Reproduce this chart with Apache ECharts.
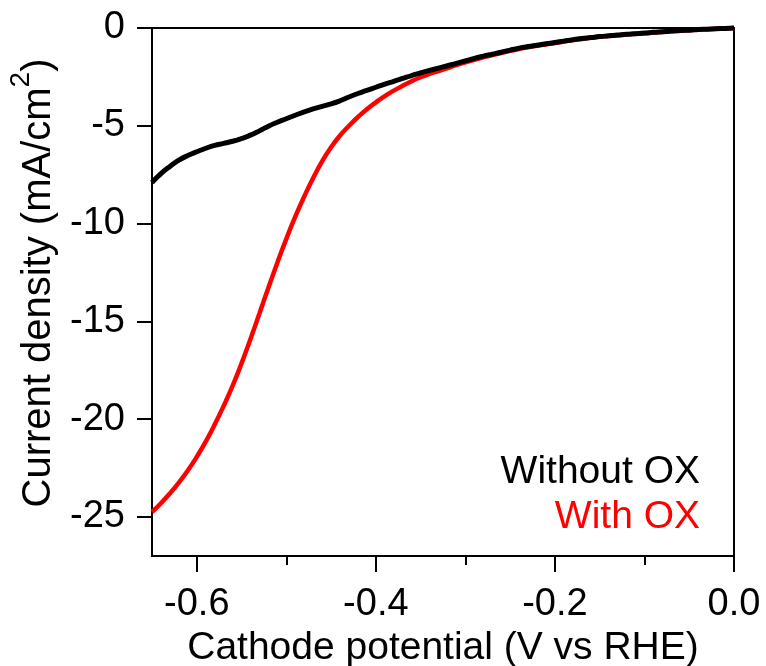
<!DOCTYPE html>
<html><head><meta charset="utf-8">
<script src="https://cdn.jsdelivr.net/npm/echarts@6/dist/echarts.min.js"></script>
<style>html,body{margin:0;padding:0;background:#fff}#c{width:766px;height:666px}</style>
</head><body><div id="c"></div>
<script>
// Cathode potential (V vs RHE)
const potential = [
 -0.65,-0.64,-0.63,-0.62,-0.61,-0.60,-0.59,-0.58,-0.57,-0.56,
 -0.55,-0.54,-0.53,-0.52,-0.51,-0.50,-0.49,-0.48,-0.47,-0.46,
 -0.45,-0.44,-0.43,-0.42,-0.41,-0.40,-0.39,-0.38,-0.37,-0.36,
 -0.35,-0.34,-0.33,-0.32,-0.31,-0.30,-0.29,-0.28,-0.27,-0.26,
 -0.25,-0.24,-0.23,-0.22,-0.21,-0.20,-0.19,-0.18,-0.17,-0.16,
 -0.15,-0.14,-0.13,-0.12,-0.11,-0.10,-0.09,-0.08,-0.07,-0.06,
 -0.05,-0.04,-0.03,-0.02,-0.01,0.00
];
// Current density (mA/cm2), without OX (black)
const withoutOX = [
 -7.90,-7.45,-7.08,-6.76,-6.52,-6.33,-6.15,-6.00,-5.90,-5.79,
 -5.65,-5.48,-5.26,-5.02,-4.82,-4.64,-4.46,-4.29,-4.14,-4.01,
 -3.88,-3.72,-3.53,-3.35,-3.19,-3.03,-2.87,-2.73,-2.58,-2.43,
 -2.29,-2.17,-2.05,-1.93,-1.81,-1.68,-1.55,-1.44,-1.34,-1.24,
 -1.13,-1.03,-0.95,-0.88,-0.81,-0.74,-0.67,-0.60,-0.54,-0.49,
 -0.44,-0.40,-0.36,-0.32,-0.29,-0.26,-0.22,-0.19,-0.16,-0.13,
 -0.11,-0.08,-0.06,-0.04,-0.02,0.00
];
// Current density (mA/cm2), with OX (red)
const withOX = [
 -24.75,-24.30,-23.80,-23.25,-22.63,-21.93,-21.15,-20.28,-19.33,-18.30,
 -17.15,-15.90,-14.60,-13.28,-12.00,-10.78,-9.65,-8.62,-7.67,-6.82,
 -6.10,-5.50,-5.00,-4.55,-4.15,-3.80,-3.48,-3.20,-2.95,-2.72,
 -2.52,-2.35,-2.20,-2.05,-1.90,-1.76,-1.63,-1.50,-1.39,-1.28,
 -1.17,-1.07,-0.98,-0.91,-0.84,-0.77,-0.69,-0.62,-0.56,-0.50,
 -0.45,-0.41,-0.37,-0.33,-0.30,-0.27,-0.23,-0.20,-0.17,-0.14,
 -0.11,-0.08,-0.06,-0.04,-0.02,0.00
];
const xMajorTicks = [-0.6, -0.4, -0.2, 0.0];
const xMinorTicks = [-0.5, -0.3, -0.1];
const yMajorTicks = [-25, -20, -15, -10, -5, 0];
const seriesNames = ['Without OX', 'With OX'];
const seriesColors = ['#000000', '#ff0000'];

const FONT = '"Liberation Sans", Arial, sans-serif';
const chart = echarts.init(document.getElementById('c'), null, {renderer: 'canvas'});

function pairs(ys) { return potential.map((x, i) => [x, ys[i]]); }

chart.setOption({
  animation: false,
  backgroundColor: '#ffffff',
  grid: {left: 152, right: 32, top: 28, bottom: 110, show: true, borderColor: '#000', borderWidth: 2,
         backgroundColor: 'transparent', containLabel: false, outerBoundsMode: 'none'},
  xAxis: [{
    type: 'value', min: -0.65, max: 0, position: 'bottom',
    name: 'Cathode potential (V vs RHE)', nameLocation: 'middle', nameGap: 68,
    nameTextStyle: {fontFamily: FONT, fontSize: 39, color: '#000'},
    axisLine: {show: true, onZero: false, lineStyle: {color: '#000', width: 2}},
    axisTick: {show: true, inside: false, length: 16, lineStyle: {color: '#000', width: 2}, customValues: xMajorTicks},
    axisLabel: {show: true, margin: 30, fontFamily: FONT, fontSize: 38, color: '#000', customValues: xMajorTicks,
      formatter: v => v.toFixed(1)},
    splitLine: {show: false}
  }, {
    type: 'value', min: -0.65, max: 0, position: 'bottom', offset: 0,
    axisLine: {show: false, onZero: false},
    axisTick: {show: true, inside: false, length: 9, lineStyle: {color: '#000', width: 2}, customValues: xMinorTicks},
    axisLabel: {show: false},
    splitLine: {show: false}
  }],
  yAxis: {
    type: 'value', min: -27, max: 0, position: 'left',
    name: '{t|Current density (mA/cm}{s|2}{t|)}', nameLocation: 'middle', nameGap: 92, nameRotate: 90,
    nameTextStyle: {
      fontFamily: FONT, color: '#000', padding: [0, 0, 0, 18],
      rich: {
        t: {fontFamily: FONT, fontSize: 40, color: '#000', lineHeight: 52, verticalAlign: 'bottom'},
        s: {fontFamily: FONT, fontSize: 28, color: '#000', lineHeight: 52, verticalAlign: 'top'}
      }
    },
    axisLine: {show: true, onZero: false, lineStyle: {color: '#000', width: 2}},
    axisTick: {show: true, inside: false, length: 15, lineStyle: {color: '#000', width: 2}, customValues: yMajorTicks},
    axisLabel: {show: true, margin: 27, fontFamily: FONT, fontSize: 38, color: '#000', customValues: yMajorTicks,
      formatter: v => String(v)},
    splitLine: {show: false}
  },
  series: [{
    name: seriesNames[1], type: 'line', data: pairs(withOX), showSymbol: false, smooth: 0.5, clip: false,
    lineStyle: {color: seriesColors[1], width: 4.5}, itemStyle: {color: seriesColors[1]}, z: 2
  }, {
    name: seriesNames[0], type: 'line', data: pairs(withoutOX), showSymbol: false, smooth: 0.5, clip: false,
    lineStyle: {color: seriesColors[0], width: 5}, itemStyle: {color: seriesColors[0]}, z: 3
  }],
  graphic: [{
    type: 'text', right: 66, top: 453,
    style: {text: seriesNames[0], fill: seriesColors[0], font: '39px ' + FONT, textAlign: 'right'}
  }, {
    type: 'text', right: 66, top: 498,
    style: {text: seriesNames[1], fill: seriesColors[1], font: '39px ' + FONT, textAlign: 'right'}
  }]
});
</script>
</body></html>
